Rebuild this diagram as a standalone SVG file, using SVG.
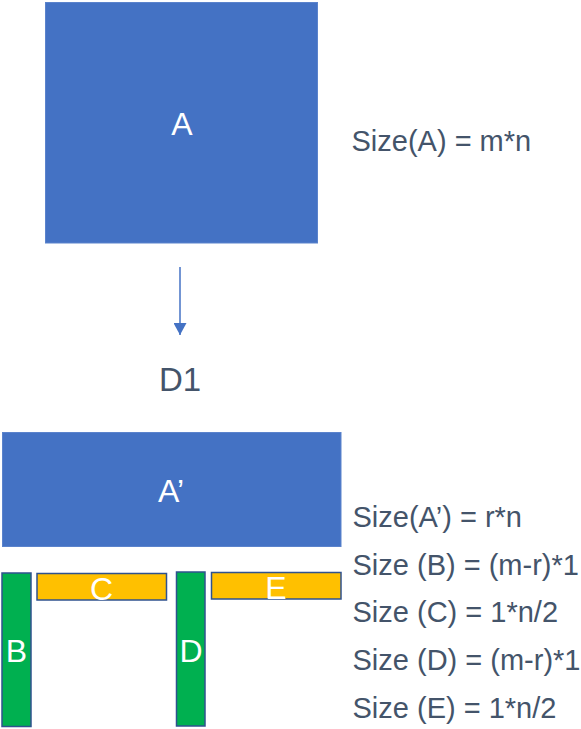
<svg xmlns="http://www.w3.org/2000/svg" width="581" height="729" viewBox="0 0 581 729">
<style>
.big{fill:#4472C4;stroke:#5B83CC;stroke-width:1}
.green{fill:#00B050;stroke:#2F528F;stroke-width:1.5}
.orange{fill:#FFC000;stroke:#2F528F;stroke-width:1.5}
.lbl{fill:#FFFFFF;font-family:"Liberation Sans",Arial,sans-serif;font-size:32px;text-anchor:middle}
.txt{fill:#44546A;font-family:"Liberation Sans",Arial,sans-serif;font-size:29px}
</style>
<defs>
<marker id="ah" markerWidth="12" markerHeight="13" refX="12" refY="6.5" orient="auto" markerUnits="userSpaceOnUse">
<path d="M0,0 L12,6.5 L0,13 Z" fill="#4472C4"/>
</marker>
</defs>
<rect width="581" height="729" fill="#FFFFFF"/>
<g id="nodeA">
<rect class="big" x="45.5" y="2.5" width="272" height="240.5"/>
<text class="lbl" x="182" y="135">A</text>
</g>
<g id="sizeA"><text class="txt" x="351.5" y="151">Size(A) = m*n</text></g>
<g id="connectors">
<line x1="180" y1="267" x2="180" y2="335" stroke="#4472C4" stroke-width="1.5" marker-end="url(#ah)"/>
</g>
<g id="d1"><text x="180" y="391" fill="#44546A" font-family="'Liberation Sans',Arial,sans-serif" font-size="33" text-anchor="middle">D1</text></g>
<g id="nodeAprime">
<rect class="big" x="2.5" y="432.5" width="338.5" height="114"/>
<text class="lbl" x="171" y="502">A’</text>
</g>
<g id="nodeB">
<rect class="green" x="2" y="573" width="29" height="153.5"/>
<text class="lbl" x="16.5" y="662">B</text>
</g>
<g id="nodeC">
<rect class="orange" x="37" y="573.5" width="129.5" height="26.5"/>
<text class="lbl" x="101.5" y="600">C</text>
</g>
<g id="nodeD">
<rect class="green" x="176.5" y="572" width="28.5" height="154"/>
<text class="lbl" x="191" y="662">D</text>
</g>
<g id="nodeE">
<rect class="orange" x="211.5" y="572.5" width="129.5" height="26.5"/>
<text class="lbl" x="276" y="599">E</text>
</g>
<g id="sizes">
<text class="txt" x="352.5" y="527">Size(A’) = r*n</text>
<text class="txt" x="352.5" y="575">Size (B) = (m-r)*1</text>
<text class="txt" x="352.5" y="622">Size (C) = 1*n/2</text>
<text class="txt" x="352.5" y="670">Size (D) = (m-r)*1</text>
<text class="txt" x="352.5" y="718">Size (E) = 1*n/2</text>
</g>
</svg>
